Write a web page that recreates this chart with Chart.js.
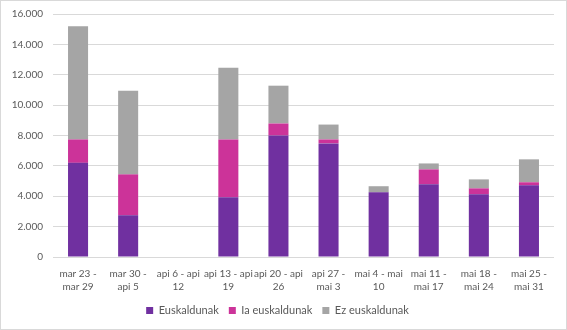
<!DOCTYPE html>
<html>
<head>
<meta charset="utf-8">
<script src="https://cdn.jsdelivr.net/npm/chart.js@4/dist/chart.umd.min.js"></script>
<style>
  html, body { margin: 0; padding: 0; background: #fff; }
  #wrap { width: 565px; height: 328px; border: 1px solid #d9d9d9; }
</style>
</head>
<body>
<div id="wrap"><canvas id="myChart" width="565" height="328"></canvas></div>
<script>
'use strict';

// weeks (two-line labels)
var weeks = [
    ['mar 23 -', 'mar 29'],
    ['mar 30 -', 'api 5'],
    ['api 6 - api', '12'],
    ['api 13 - api', '19'],
    ['api 20 - api', '26'],
    ['api 27 -', 'mai 3'],
    ['mai 4 - mai', '10'],
    ['mai 11 -', 'mai 17'],
    ['mai 18 -', 'mai 24'],
    ['mai 25 -', 'mai 31']
];
var euskaldunak = [6200, 2750, 0, 3930, 8000, 7480, 4260, 4790, 4130, 4720];
var iaEuskaldunak = [1540, 2690, 0, 3810, 790, 260, 0, 980, 390, 200];
var ezEuskaldunak = [7460, 5510, 0, 4720, 2490, 980, 400, 390, 590, 1510];
var yTicks = [0, 2000, 4000, 6000, 8000, 10000, 12000, 14000, 16000];

function fmt(v) {
    return v.toString().replace(/\B(?=(\d{3})+(?!\d))/g, '.');
}

var ctx = document.getElementById('myChart').getContext('2d');
var chart = new Chart(ctx, {
    type: 'bar',
    data: {
        labels: weeks,
        datasets: [{
            label: 'Euskaldunak',
            data: euskaldunak,
            backgroundColor: '#7030a0'
        },
        {
            label: 'Ia euskaldunak',
            data: iaEuskaldunak,
            backgroundColor: '#cc3399'
        },
        {
            label: 'Ez euskaldunak',
            data: ezEuskaldunak,
            backgroundColor: '#a5a5a5'
        }]
    },
    options: {
        responsive: false,
        animation: false,
        layout: { padding: { left: 0, right: 12, top: 13, bottom: 3 } },
        datasets: { bar: { categoryPercentage: 1, barPercentage: 0.4 } },
        plugins: {
            legend: {
                position: 'bottom',
                labels: {
                    boxWidth: 7,
                    boxHeight: 7,
                    padding: 10,
                    color: '#595959',
                    font: { family: 'Lato', size: 11 }
                }
            },
            tooltip: { enabled: false }
        },
        scales: {
            x: {
                stacked: true,
                grid: { display: false, drawTicks: false },
                border: { display: false },
                afterFit: function (scale) { scale.height = 38; },
                ticks: {
                    color: '#595959',
                    font: { family: 'Lato', size: 10, lineHeight: 1.3 },
                    maxRotation: 0,
                    autoSkip: false,
                    padding: 10
                }
            },
            y: {
                stacked: true,
                min: 0,
                max: 16000,
                afterBuildTicks: function (scale) {
                    scale.ticks = yTicks.map(function (v) { return { value: v }; });
                },
                afterFit: function (scale) {
                    scale.width = 52;
                    scale.paddingTop = 0;
                    scale.paddingBottom = 0;
                },
                grid: { color: '#d9d9d9', drawTicks: false },
                border: { display: false },
                ticks: {
                    color: '#595959',
                    font: { family: 'Lato', size: 10 },
                    padding: 10,
                    callback: function (v) { return fmt(v); }
                }
            }
        }
    }
});
</script>
</body>
</html>
